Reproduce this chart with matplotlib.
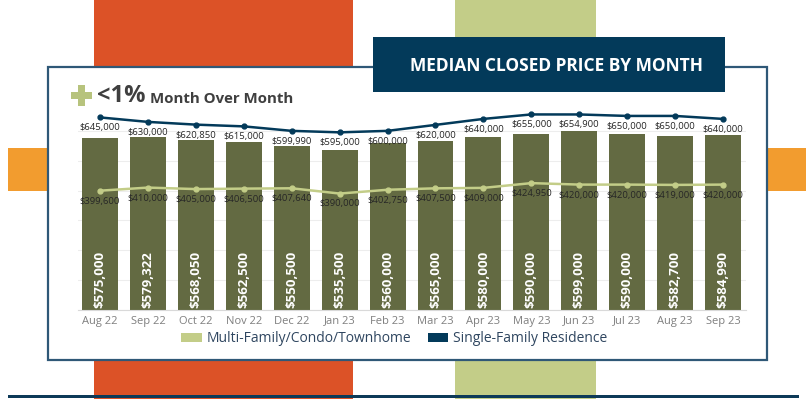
import matplotlib.pyplot as plt
from matplotlib.patches import Rectangle, Patch

months = ["Aug 22", "Sep 22", "Oct 22", "Nov 22", "Dec 22", "Jan 23", "Feb 23",
          "Mar 23", "Apr 23", "May 23", "Jun 23", "Jul 23", "Aug 23", "Sep 23"]
all_homes = [575000, 579322, 568050, 562500, 550500, 535500, 560000,
             565000, 580000, 590000, 599000, 590000, 582700, 584990]
single_family = [645000, 630000, 620850, 615000, 599990, 595000, 600000,
                 620000, 640000, 655000, 654900, 650000, 650000, 640000]
multi_family = [399600, 410000, 405000, 406500, 407640, 390000, 402750,
                407500, 409000, 424950, 420000, 420000, 419000, 420000]

W, H = 806, 399
BAR = "#636a42"
NAVY = "#033a5a"
LIME = "#c3cd88"
ORANGE = "#dc5227"
AMBER = "#f29c2f"

plt.rcParams['font.family'] = ['Open Sans', 'DejaVu Sans']

fig = plt.figure(figsize=(W / 100, H / 100), dpi=100)


def box(x, y, w, h, color, z, **kw):
    # pixel box (top-left origin) -> figure fraction
    r = Rectangle((x / W, 1 - (y + h) / H), w / W, h / H, transform=fig.transFigure,
                  facecolor=color, zorder=z, **kw)
    fig.patches.append(r)
    return r


# background decoration
box(94, 0, 259, 68, ORANGE, -5, linewidth=0)
box(94, 359, 259, 40, ORANGE, -5, linewidth=0)
box(455, 0, 141, 40, LIME, -5, linewidth=0)
box(455, 359, 141, 40, LIME, -5, linewidth=0)
box(8, 148, 42, 43, AMBER, -5, linewidth=0)
box(766, 148, 40, 43, AMBER, -5, linewidth=0)
box(8, 395, 791, 3, "#0d3a58", -5, linewidth=0)

# white panel
box(48, 67, 719, 293, "white", -3, edgecolor="#2f5877", linewidth=1.6)

# title banner
box(373, 37, 352, 55, NAVY, 5, linewidth=0)
fig.text(557 / W, 1 - 66 / H, "MEDIAN CLOSED PRICE BY MONTH", color="white",
         fontsize=12.5, fontweight="bold", ha="center", va="center", zorder=6)

# plus sign + subtitle
box(71, 92, 21, 7, "#b7c37d", 5, linewidth=0)
box(78, 85, 7, 21, "#b7c37d", 5, linewidth=0)
fig.text(97 / W, 1 - 96 / H, "<1%", color="#3f3f3f", fontsize=17,
         fontweight="bold", ha="left", va="center", zorder=6)
fig.text(150 / W, 1 - 99 / H, "Month Over Month", color="#3f3f3f", fontsize=10.8,
         fontweight="bold", ha="left", va="center", zorder=6)

# chart
ax = fig.add_axes([78 / W, 1 - 310 / H, 668 / W, 209 / H])
ax.set_facecolor("none")
x = range(len(months))

ax.bar(x, all_homes, width=0.75, color=BAR, zorder=2)
for i, v in enumerate(all_homes):
    ax.text(i, 8000, f"${v:,}", rotation=90, ha="center", va="bottom",
            color="white", fontsize=9.5, fontweight="bold", zorder=5)

ax.plot(x, single_family, color=NAVY, linewidth=1.8, marker="o", markersize=3.5, zorder=3)
ax.plot(x, multi_family, color=LIME, linewidth=1.8, marker="o", markersize=3.5, zorder=3)
for i in x:
    ax.annotate(f"${single_family[i]:,}", (i, single_family[i]), xytext=(0, -7.5),
                textcoords="offset points", ha="center", va="center",
                fontsize=6.8, color="#262626", zorder=6)
    ax.annotate(f"${multi_family[i]:,}", (i, multi_family[i]), xytext=(0, -7.5),
                textcoords="offset points", ha="center", va="center",
                fontsize=6.8, color="#262626", zorder=6)

ax.set_xlim(-0.46, 13.48)
ax.set_ylim(0, 700000)
ax.set_yticks(range(0, 600001, 100000))
ax.set_yticklabels([])
ax.tick_params(axis="y", length=0)
ax.grid(axis="y", color="#ededed", linewidth=0.8, zorder=0)
ax.set_axisbelow(True)
ax.set_xticks(list(x))
ax.set_xticklabels(months, fontsize=8, color="#7f7f7f")
ax.tick_params(axis="x", length=0, pad=4)
for s in ["top", "left", "right"]:
    ax.spines[s].set_visible(False)
ax.spines["bottom"].set_color("#d9d9d9")

handles = [Patch(facecolor=LIME, label="Multi-Family/Condo/Townhome"),
           Patch(facecolor=NAVY, label="Single-Family Residence")]
fig.legend(handles=handles, loc="center", bbox_to_anchor=(394 / W, 1 - 339 / H),
           ncol=2, frameon=False, fontsize=10, handlelength=1.5, handleheight=0.65,
           handletextpad=0.3, columnspacing=1.2, labelcolor="#2f4660")

fig.savefig("out.png", dpi=100)
